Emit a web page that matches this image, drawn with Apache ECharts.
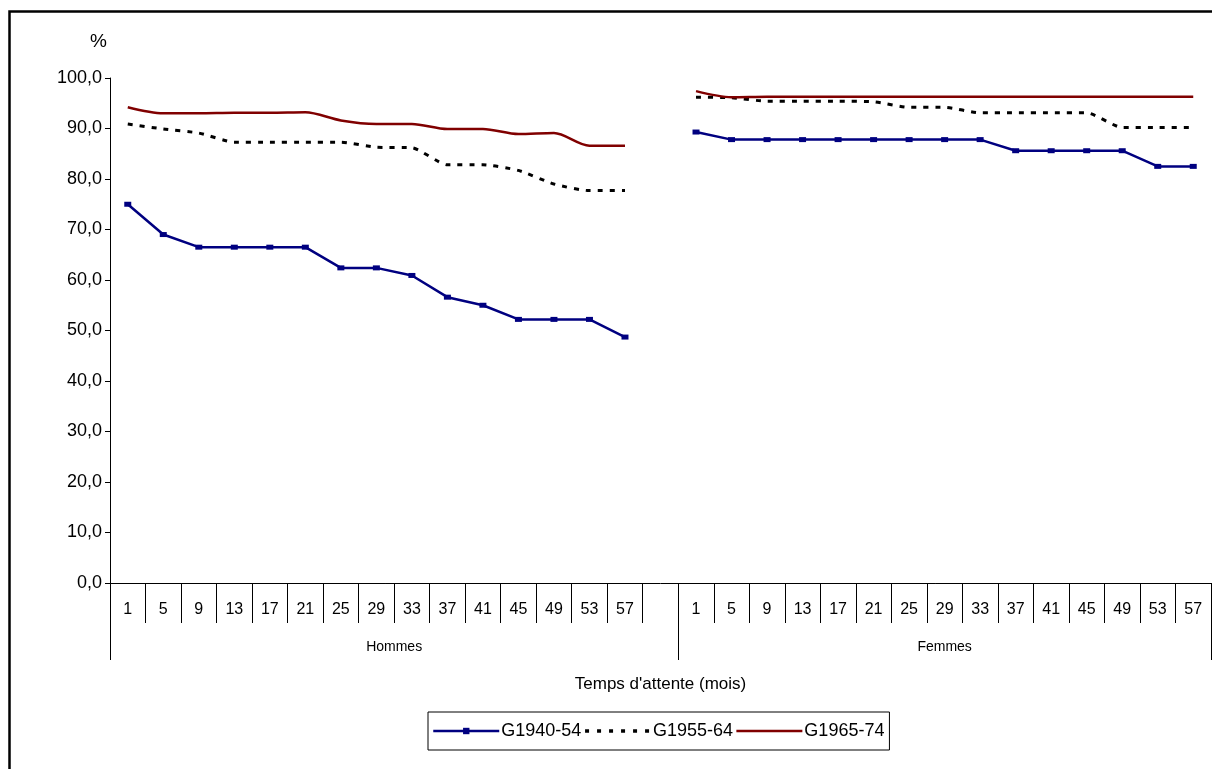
<!DOCTYPE html>
<html>
<head>
<meta charset="utf-8">
<title>Temps d'attente</title>
<script src="https://cdn.jsdelivr.net/npm/echarts@6/dist/echarts.min.js"></script>
<style>
  html, body { margin: 0; padding: 0; background: #fff; }
  #chart { width: 1212px; height: 769px; }
</style>
</head>
<body>
<div id="chart"></div>
<script>
// mois d'attente, repeated for both groups (one empty slot after Hommes)
const months = ['1', '5', '9', '13', '17', '21', '25', '29', '33', '37', '41', '45', '49', '53', '57'];
const groups = ['Hommes', 'Femmes'];

const g1940Hommes = [75.0, 69.0, 66.5, 66.5, 66.5, 66.5, 62.4, 62.4, 60.9, 56.6, 55.0, 52.2, 52.2, 52.2, 48.7];
const g1940Femmes = [89.3, 87.8, 87.8, 87.8, 87.8, 87.8, 87.8, 87.8, 87.8, 85.6, 85.6, 85.6, 85.6, 82.5, 82.5];
const g1955Hommes = [90.9, 89.9, 89.1, 87.3, 87.3, 87.3, 87.3, 86.3, 86.2, 82.8, 82.8, 81.7, 79.0, 77.7, 77.7];
const g1955Femmes = [96.2, 96.1, 95.4, 95.4, 95.4, 95.3, 94.2, 94.2, 93.1, 93.1, 93.1, 93.1, 90.2, 90.2, 90.2];
const g1965Hommes = [94.2, 93.0, 93.0, 93.1, 93.1, 93.2, 91.6, 90.9, 90.9, 89.9, 89.9, 88.9, 89.1, 86.6, 86.6];
const g1965Femmes = [97.4, 96.2, 96.3, 96.3, 96.3, 96.3, 96.3, 96.3, 96.3, 96.3, 96.3, 96.3, 96.3, 96.3, 96.3];

const seriesNames = ['G1940-54', 'G1955-64', 'G1965-74'];

// build the flat category list: Hommes (15 + blank) then Femmes (15)
const categories = months.concat(['']).concat(months);
const join = (h, f) => h.concat([null]).concat(f);

const FONT = 'Arial, "Liberation Sans", sans-serif';
const nCat = categories.length;
const groupEdge = months.length + 1;

const chart = echarts.init(document.getElementById('chart'), null, { renderer: 'canvas' });

let option = {
  animation: false,
  backgroundColor: '#fff',
  textStyle: { fontFamily: FONT, color: '#000' },
  title: {
    text: '%',
    left: 85,
    top: 27,
    textStyle: { fontFamily: FONT, fontSize: 19, fontWeight: 'normal', color: '#000' },
  },
  grid: {
    left: 110,
    top: 78,
    width: 1101,
    height: 505,
    containLabel: false,
  },
  legend: {
    data: [
      { name: seriesNames[0], lineStyle: { width: 2.5 } },
      { name: seriesNames[1], itemStyle: { opacity: 0 }, lineStyle: { width: 3.5, type: [4, 8] } },
      { name: seriesNames[2], itemStyle: { opacity: 0 }, lineStyle: { width: 2.5 } },
    ],
    left: 428,
    top: 712,
    orient: 'horizontal',
    borderColor: '#000',
    borderWidth: 1,
    padding: [10, 5, 10, 4],
    itemGap: 2,
    itemWidth: 66,
    itemHeight: 8,
    textStyle: { fontFamily: FONT, fontSize: 18, color: '#000', padding: [0, 0, 0, -3] },
  },
  xAxis: [
    {
      type: 'category',
      data: categories,
      boundaryGap: true,
      name: "Temps d'attente (mois)",
      nameLocation: 'middle',
      nameGap: 93,
      nameTextStyle: { fontFamily: FONT, fontSize: 17, color: '#000' },
      axisLine: { lineStyle: { color: '#000', width: 1 } },
      axisTick: { show: false },
      axisLabel: { interval: 0, margin: 19, fontFamily: FONT, fontSize: 16, color: '#000' },
      splitLine: { show: false },
    },
    {
      // short separators between the month cells
      type: 'value',
      min: 0,
      max: nCat,
      position: 'bottom',
      offset: 0,
      axisLine: { show: false },
      axisTick: {
        show: true,
        customValues: categories.map((c, i) => i).concat([nCat]),
        length: 40,
        lineStyle: { color: '#000', width: 1 },
      },
      axisLabel: { show: false },
      splitLine: { show: false },
    },
    {
      // second level of the category axis: group labels and separators
      type: 'value',
      min: 0,
      max: nCat,
      position: 'bottom',
      offset: 0,
      axisLine: { show: false },
      axisTick: {
        show: true,
        customValues: [0, groupEdge, nCat],
        length: 77,
        lineStyle: { color: '#000', width: 1 },
      },
      axisLabel: {
        customValues: [groupEdge / 2, groupEdge + months.length / 2],
        formatter: v => (v < groupEdge ? groups[0] : groups[1]),
        margin: 57,
        fontFamily: FONT,
        fontSize: 14,
        color: '#000',
      },
      splitLine: { show: false },
    },
  ],
  yAxis: {
    type: 'value',
    min: 0,
    max: 100,
    interval: 10,
    axisLine: { show: true, lineStyle: { color: '#000', width: 1 } },
    axisTick: { show: true, length: 5, lineStyle: { color: '#000' } },
    axisLabel: {
      margin: 8,
      fontFamily: FONT,
      fontSize: 18,
      color: '#000',
      formatter: v => v.toFixed(1).replace('.', ','),
    },
    splitLine: { show: false },
  },
  series: [
    {
      name: seriesNames[0],
      type: 'line',
      data: join(g1940Hommes, g1940Femmes),
      symbol: 'rect',
      symbolSize: [7, 5],
      showSymbol: true,
      itemStyle: { color: '#000080' },
      lineStyle: { color: '#000080', width: 2.5 },
      z: 3,
    },
    {
      name: seriesNames[1],
      type: 'line',
      data: join(g1955Hommes, g1955Femmes),
      symbol: 'none',
      smooth: 0.2,
      itemStyle: { color: '#000' },
      lineStyle: { color: '#000', width: 3, type: [5, 7], cap: 'butt' },
      z: 2,
    },
    {
      name: seriesNames[2],
      type: 'line',
      data: join(g1965Hommes, g1965Femmes),
      symbol: 'none',
      smooth: 0.3,
      itemStyle: { color: '#800000' },
      lineStyle: { color: '#800000', width: 2.5 },
      z: 2,
    },
  ],
  graphic: [
    {
      // outer frame of the chart area
      type: 'rect',
      silent: true,
      shape: { x: 9.5, y: 11.5, width: 1300, height: 900 },
      style: { fill: 'none', stroke: '#000', lineWidth: 2.5 },
    },
  ],
};

chart.setOption(option);
</script>
</body>
</html>
